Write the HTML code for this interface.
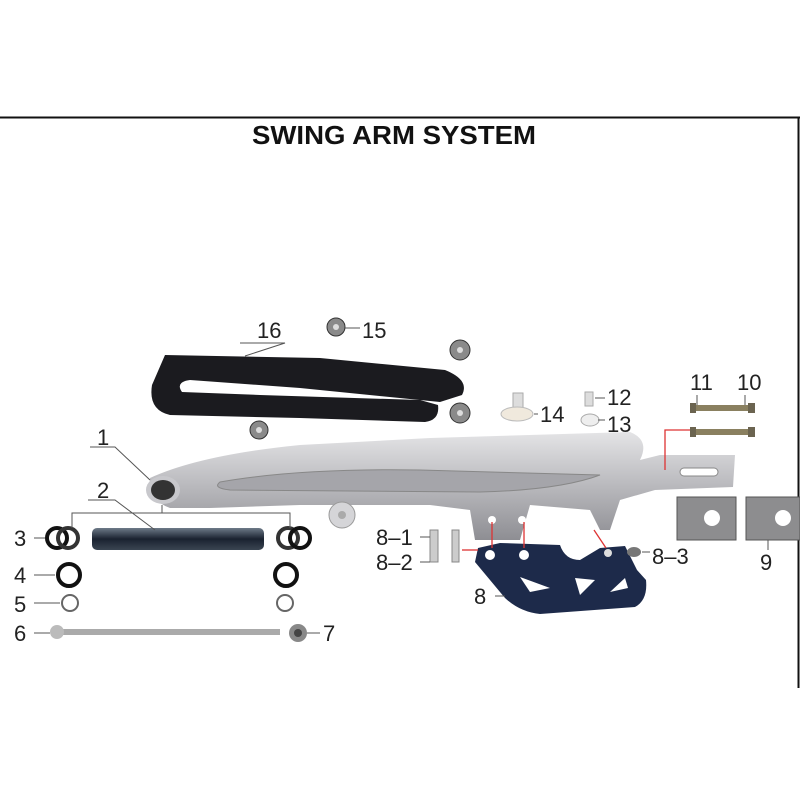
<!DOCTYPE html>
<html><head><style>
body{margin:0;background:#fff;}
svg{display:block;}
text{font-family:"Liberation Sans",sans-serif;fill:#222;}
</style></head><body>
<svg width="800" height="800" viewBox="0 0 800 800">
<defs>
<linearGradient id="sil" x1="0" y1="0" x2="0" y2="1">
<stop offset="0" stop-color="#e4e4e6"/><stop offset="0.5" stop-color="#b9b9bd"/><stop offset="1" stop-color="#8e8e93"/>
</linearGradient>
<linearGradient id="bar" x1="0" y1="0" x2="0" y2="1">
<stop offset="0" stop-color="#6d7a88"/><stop offset="0.5" stop-color="#1a2230"/><stop offset="1" stop-color="#3a4552"/>
</linearGradient>
</defs>
<line x1="0" y1="117.5" x2="800" y2="117.5" stroke="#111" stroke-width="2"/>
<line x1="798.5" y1="117" x2="798.5" y2="688" stroke="#111" stroke-width="2"/>
<text x="394" y="144" font-size="26" font-weight="bold" text-anchor="middle" textLength="284" lengthAdjust="spacingAndGlyphs" style="fill:#111">SWING ARM SYSTEM</text>

<!-- chain slider 16 -->
<path d="M165 355 L320 358 L445 370 Q470 380 462 395 L440 402 L300 388 L190 380 Q175 382 182 392 L260 395 L420 400 L438 405 Q440 420 425 422 L300 418 L170 415 Q148 410 152 385 Z" fill="#1b1b1f"/>
<!-- bolts 15 -->
<g fill="#8a8a8a" stroke="#333" stroke-width="1">
<circle cx="336" cy="327" r="9"/><circle cx="460" cy="350" r="10"/><circle cx="460" cy="413" r="10"/><circle cx="259" cy="430" r="9"/>
</g>
<g fill="#ddd"><circle cx="336" cy="327" r="3"/><circle cx="460" cy="350" r="3"/><circle cx="460" cy="413" r="3"/><circle cx="259" cy="430" r="3"/></g>

<!-- swing arm -->
<path d="M150 478 Q200 455 300 445 L430 438 L630 432 Q650 440 640 460 L660 455 L735 455 L733 487 L655 490 L620 500 L610 530 L600 530 L590 510 L530 505 L520 540 L475 540 L470 510 L430 505 L360 505 L300 505 L210 508 L170 508 Q148 500 150 478 Z" fill="url(#sil)"/>
<path d="M220 482 Q300 468 420 470 L600 475 Q560 490 480 492 L230 490 Q212 488 220 482 Z" fill="#a5a5aa" stroke="#888" stroke-width="1"/>
<rect x="680" y="468" width="38" height="8" rx="4" fill="#fff" stroke="#888"/>
<ellipse cx="163" cy="490" rx="17" ry="14" fill="#c8c8cc"/>
<ellipse cx="163" cy="490" rx="12" ry="10" fill="#333"/>
<circle cx="342" cy="515" r="13" fill="#d5d5d8" stroke="#999"/>
<circle cx="342" cy="515" r="4" fill="#aaa"/>
<circle cx="492" cy="520" r="4" fill="#fff"/><circle cx="522" cy="520" r="4" fill="#fff"/><circle cx="591" cy="527" r="4" fill="#fff"/>

<!-- items 14, 12, 13 -->
<rect x="513" y="393" width="10" height="16" fill="#ddd" stroke="#aaa"/>
<ellipse cx="517" cy="414" rx="16" ry="7" fill="#f0e9dd" stroke="#bbb"/>
<rect x="585" y="392" width="8" height="14" fill="#ddd" stroke="#aaa"/>
<ellipse cx="590" cy="420" rx="9" ry="6" fill="#eee" stroke="#aaa"/>

<!-- bolts 10/11 -->
<rect x="693" y="405" width="62" height="6" fill="#8a8060"/>
<rect x="693" y="429" width="62" height="6" fill="#8a8060"/>
<rect x="690" y="403" width="6" height="10" fill="#6b6450"/><rect x="748" y="403" width="7" height="10" fill="#6b6450"/>
<rect x="690" y="427" width="6" height="10" fill="#6b6450"/><rect x="748" y="427" width="7" height="10" fill="#6b6450"/>

<!-- plates 9 -->
<rect x="677" y="497" width="59" height="43" fill="#8d8d8f" stroke="#555"/>
<circle cx="712" cy="518" r="8" fill="#fff"/>
<rect x="746" y="497" width="54" height="43" fill="#8d8d8f" stroke="#555"/>
<circle cx="783" cy="518" r="8" fill="#fff"/>

<!-- chain guide 8 -->
<path d="M478 548 L500 543 L560 545 Q565 560 580 560 L600 548 L625 546 L637 570 L646 580 Q648 600 635 607 L540 614 Q520 612 505 598 L475 562 Z" fill="#1d2a4a"/>
<circle cx="490" cy="555" r="5" fill="#fff"/><circle cx="524" cy="555" r="5" fill="#fff"/><circle cx="608" cy="553" r="4" fill="#ddd"/>
<path d="M520 577 L550 588 L530 592 Z" fill="#fff"/><path d="M575 578 L595 580 L580 595 Z" fill="#fff"/><path d="M625 578 L628 588 L610 592 Z" fill="#fff"/>
<ellipse cx="634" cy="552" rx="7" ry="5" fill="#777"/>
<rect x="430" y="530" width="8" height="32" fill="#ccc" stroke="#888"/>
<rect x="452" y="530" width="7" height="32" fill="#ccc" stroke="#888"/>

<!-- bushing set -->
<rect x="92" y="528" width="172" height="22" rx="5" fill="url(#bar)"/>
<g fill="none" stroke="#111" stroke-width="4">
<circle cx="57" cy="538" r="10"/><circle cx="68" cy="538" r="10" stroke="#333"/>
<circle cx="288" cy="538" r="10" stroke="#333"/><circle cx="300" cy="538" r="10"/>
<circle cx="69" cy="575" r="11"/><circle cx="286" cy="575" r="11"/>
</g>
<g fill="none" stroke="#666" stroke-width="2">
<circle cx="70" cy="603" r="8"/><circle cx="285" cy="603" r="8"/>
</g>
<rect x="55" y="629" width="225" height="6" fill="#aaa"/>
<circle cx="57" cy="632" r="7" fill="#bbb"/>
<circle cx="298" cy="633" r="9" fill="#888"/><circle cx="298" cy="633" r="4" fill="#444"/>

<!-- leader lines -->
<g stroke="#555" stroke-width="1" fill="none">
<path d="M90 447 L115 447 L150 480"/>
<path d="M88 500 L115 500 L155 530"/>
<path d="M72 528 L72 513 L290 513 L290 528"/>
<line x1="162" y1="513" x2="162" y2="505"/>
<path d="M240 343 L285 343 L245 356"/>
<line x1="344" y1="328" x2="360" y2="328"/>
<line x1="34" y1="538" x2="45" y2="538"/><line x1="34" y1="575" x2="55" y2="575"/>
<line x1="34" y1="603" x2="60" y2="603"/><line x1="34" y1="633" x2="50" y2="633"/>
<line x1="307" y1="633" x2="320" y2="633"/>
<line x1="534" y1="414" x2="538" y2="414"/><line x1="595" y1="398" x2="605" y2="398"/><line x1="598" y1="420" x2="605" y2="420"/>
<line x1="697" y1="395" x2="697" y2="405"/><line x1="745" y1="395" x2="745" y2="405"/>
<line x1="768" y1="540" x2="768" y2="550"/>
<line x1="420" y1="537" x2="430" y2="537"/><line x1="420" y1="562" x2="430" y2="562"/>
<line x1="642" y1="552" x2="650" y2="552"/><line x1="495" y1="596" x2="505" y2="596"/>
</g>
<g stroke="#d33" stroke-width="1.3" fill="none">
<line x1="492" y1="522" x2="492" y2="548"/><line x1="524" y1="522" x2="524" y2="548"/>
<line x1="594" y1="530" x2="606" y2="548"/><line x1="462" y1="550" x2="478" y2="550"/>
<path d="M665 470 L665 430 L690 430"/>
</g>

<g font-size="22">
<text x="97" y="445">1</text><text x="97" y="498">2</text>
<text x="14" y="546">3</text><text x="14" y="583">4</text><text x="14" y="612">5</text><text x="14" y="641">6</text>
<text x="323" y="641">7</text><text x="257" y="338">16</text><text x="362" y="338">15</text>
<text x="540" y="422">14</text><text x="607" y="405">12</text><text x="607" y="432">13</text>
<text x="690" y="390">11</text><text x="737" y="390">10</text>
<text x="376" y="545">8–1</text><text x="376" y="570">8–2</text><text x="652" y="564">8–3</text>
<text x="474" y="604">8</text><text x="760" y="570">9</text>
</g>
</svg>
</body></html>
